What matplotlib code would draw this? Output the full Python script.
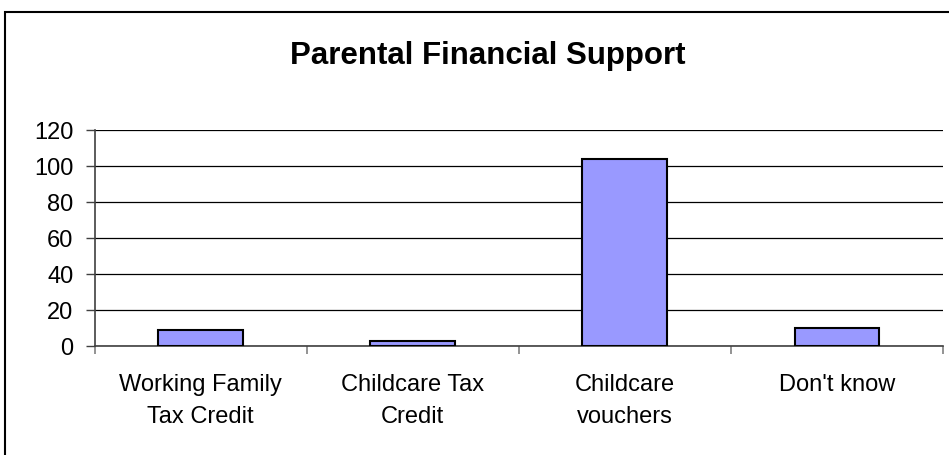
import matplotlib
matplotlib.use('Agg')
import matplotlib.pyplot as plt
from matplotlib.patches import Rectangle

plt.rcParams['font.family'] = ['Liberation Sans', 'DejaVu Sans']

# data
categories = ['Working Family\nTax Credit', 'Childcare Tax\nCredit',
              'Childcare\nvouchers', "Don't know"]
counts = [9, 3, 104, 10]
yticks = [0, 20, 40, 60, 80, 100, 120]

fig = plt.figure(figsize=(9.49, 4.55), dpi=100)
ax = fig.add_axes([0.0998, 0.2389, 0.8939, 0.4747])

x = list(range(len(categories)))
ax.bar(x, counts, width=0.4, color='#9999FF', edgecolor='black',
       linewidth=1.5, zorder=3)

ax.set_xlim(-0.5, len(categories) - 0.5)
ax.set_ylim(0, 120)
ax.set_yticks(yticks)
ax.yaxis.grid(True, color='black', linewidth=0.9, zorder=0)

# labels at centres, tick marks between categories
ax.set_xticks(x)
ax.set_xticklabels(categories, fontsize=17, linespacing=1.58)
ax.set_xticks([i - 0.5 for i in range(len(categories) + 1)], minor=True)
ax.tick_params(axis='x', which='major', length=0, pad=20)
ax.tick_params(axis='x', which='minor', length=6, width=1.2, color='#808080')
ax.tick_params(axis='y', labelsize=17, length=6.3, width=1.0,
               color='#404040', pad=9)

for s in ['top', 'right']:
    ax.spines[s].set_visible(False)
for s in ['left', 'bottom']:
    ax.spines[s].set_color('#404040')
    ax.spines[s].set_linewidth(1.2)

fig.text(488 / 949, 1 - 64 / 455, 'Parental Financial Support',
         fontsize=22.5, fontweight='bold', ha='center', va='baseline')

# chart area border (runs off the right and bottom edges)
fig.patches.append(Rectangle((5 / 949, -0.1), 1.2, 1.1 - 12 / 455,
                             transform=fig.transFigure, fill=False,
                             edgecolor='black', linewidth=1.5))

fig.savefig('out.png', dpi=100)
